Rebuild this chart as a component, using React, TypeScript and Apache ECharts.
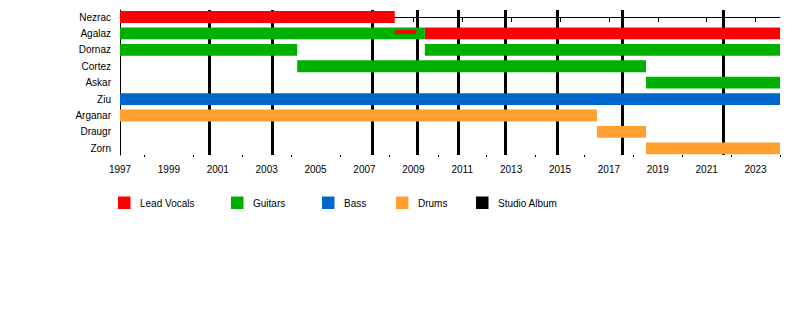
import React, { useEffect, useRef } from "react";
import * as echarts from "echarts";

const members = ["Nezrac", "Agalaz", "Dornaz", "Cortez", "Askar", "Ziu", "Arganar", "Draugr", "Zorn"];
const roleNames = ["Lead Vocals", "Guitars", "Bass", "Drums"];
const roleColors = ["#ff0000", "#00b000", "#0066cc", "#ffa030"];
const albumLabel = "Studio Album";
const albumColor = "#000000";

type Period = [string, number, number];
const vocalsPeriods: Period[] = [
  ["Nezrac", 1997, 2008.24],
  ["Agalaz", 2009.47, 2024],
];
const guitarsPeriods: Period[] = [
  ["Agalaz", 1997, 2009.47],
  ["Dornaz", 1997, 2004.25],
  ["Dornaz", 2009.47, 2024],
  ["Cortez", 2004.25, 2018.52],
  ["Askar", 2018.52, 2024],
];
const bassPeriods: Period[] = [["Ziu", 1997, 2024]];
const drumsPeriods: Period[] = [
  ["Arganar", 1997, 2016.51],
  ["Draugr", 2016.51, 2018.52],
  ["Zorn", 2018.52, 2024],
];
const secondaryVocalsPeriods: Period[] = [["Agalaz", 2008.24, 2009.12]];

const studioAlbums = [2000.66, 2003.21, 2007.31, 2009.16, 2010.84, 2012.78, 2014.89, 2017.53, 2021.66];

const yearMin = 1997;
const yearMax = 2024;
const majorTickYears = [1997, 1999, 2001, 2003, 2005, 2007, 2009, 2011, 2013, 2015, 2017, 2019, 2021, 2023];
const minorTickYears = [1998, 2000, 2002, 2004, 2006, 2008, 2010, 2012, 2014, 2016, 2018, 2020, 2022, 2024];

const FONT = "'Liberation Sans', Arial, Helvetica, sans-serif";

function toData(periods: Period[]) {
  return periods.map((p) => [p[1], p[2], members.indexOf(p[0])]);
}

function barSeries(name: string, periods: Period[], color: string, thin: boolean, z: number) {
  return {
    type: "custom",
    name,
    z,
    xAxisIndex: 0,
    yAxisIndex: 0,
    encode: { x: [0, 1], y: 2 },
    data: toData(periods),
    renderItem: (params: any, api: any) => {
      const row = api.value(2);
      const s = api.coord([api.value(0), row]);
      const e = api.coord([api.value(1), row]);
      const unit = api.size([0, 1])[1];
      const h = thin ? 4 : unit * 0.72;
      const cy = thin ? s[1] - 1.3 : s[1];
      return {
        type: "rect",
        shape: { x: s[0], y: cy - h / 2, width: e[0] - s[0], height: h },
        style: { fill: color },
      };
    },
  };
}

export default function App() {
  const ref = useRef<HTMLDivElement>(null);
  useEffect(() => {
    if (!ref.current) return;
    const chart = echarts.init(ref.current, undefined, { renderer: "svg" });

    const legendX = [118, 231, 322, 396, 476];
    const legendItems = [...roleNames, albumLabel];
    const legendColors = [...roleColors, albumColor];
    const graphic: any[] = [];
    legendItems.forEach((label, i) => {
      graphic.push({
        type: "rect",
        left: legendX[i],
        top: 196.5,
        shape: { width: 12.5, height: 12.5 },
        style: { fill: legendColors[i] },
      });
      graphic.push({
        type: "text",
        x: legendX[i] + 22,
        y: 203.5,
        style: {
          text: label,
          fill: "#000",
          font: `10px ${FONT}`,
          textVerticalAlign: "middle",
          textAlign: "left",
        },
      });
    });

    const option: any = {
      animation: false,
      backgroundColor: "#ffffff",
      textStyle: { fontFamily: FONT },
      grid: { left: 120, right: 20, top: 10, bottom: 179, containLabel: false },
      xAxis: [
        {
          type: "value",
          min: yearMin,
          max: yearMax,
          position: "bottom",
          splitLine: { show: false },
          axisLine: { show: true, lineStyle: { color: "#000", width: 1 } },
          axisTick: { show: true, customValues: majorTickYears, length: 5, lineStyle: { color: "#000", width: 1 } },
          axisLabel: {
            show: true,
            customValues: majorTickYears,
            fontSize: 10,
            color: "#000",
            margin: 9,
            fontFamily: FONT,
            formatter: (v: number) => String(v),
          },
        },
        {
          type: "value",
          min: yearMin,
          max: yearMax,
          position: "bottom",
          splitLine: { show: false },
          axisLine: { show: false },
          axisTick: { show: true, customValues: minorTickYears, length: 2, lineStyle: { color: "#000", width: 1 } },
          axisLabel: { show: false },
        },
      ],
      yAxis: {
        type: "value",
        inverse: true,
        min: -0.4265,
        max: 8.408,
        splitLine: { show: false },
        axisLine: { show: true, lineStyle: { color: "#000", width: 1 } },
        axisTick: { show: false },
        axisLabel: {
          show: true,
          customValues: members.map((_, i) => i),
          formatter: (v: number) => members[Math.round(v)] ?? "",
          fontSize: 10,
          color: "#000",
          margin: 9,
          fontFamily: FONT,
        },
      },
      series: [
        {
          type: "line",
          name: albumLabel,
          data: [],
          z: 1,
          silent: true,
          markLine: {
            z: 1,
            silent: true,
            symbol: "none",
            label: { show: false },
            lineStyle: { color: albumColor, width: 3, type: "solid" },
            data: studioAlbums.map((v) => ({ xAxis: v })),
          },
        },
        barSeries(roleNames[0], vocalsPeriods, roleColors[0], false, 3),
        barSeries(roleNames[1], guitarsPeriods, roleColors[1], false, 3),
        barSeries(roleNames[2], bassPeriods, roleColors[2], false, 3),
        barSeries(roleNames[3], drumsPeriods, roleColors[3], false, 3),
        barSeries("Secondary Vocals", secondaryVocalsPeriods, roleColors[0], true, 4),
      ],
      graphic,
    };
    chart.setOption(option);
    return () => chart.dispose();
  }, []);

  return (
    <div
      ref={ref}
      style={{ position: "absolute", left: 0, top: 0, width: 800, height: 334, background: "#fff" }}
    />
  );
}
